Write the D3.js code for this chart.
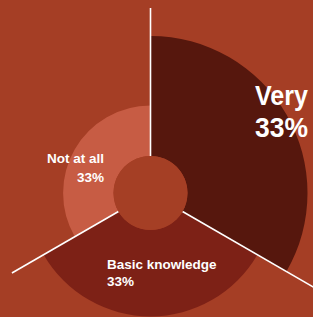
<!DOCTYPE html>
<html>
<head>
<meta charset="utf-8">
<script src="https://cdn.jsdelivr.net/npm/d3@7"></script>
<style>
  html, body { margin: 0; padding: 0; background: #a53e25; }
  svg { display: block; }
  .lbl { fill: #fff; font-family: "Liberation Sans", Arial, sans-serif; font-weight: bold; }
</style>
</head>
<body>
<div id="chart"></div>
<script>
// data
var categories = ["Very", "Basic knowledge", "Not at all"];
var shares = [33, 33, 33];
var reach = [100, 72, 42];
var shareLabels = ["33%", "33%", "33%"];
var colors = ["#56170d", "#7d2116", "#c75c44"];

var W = 313, H = 317;
var cx = 150.5, cy = 193;
var innerR = 37;

var svg = d3.select("#chart").append("svg")
    .attr("width", W)
    .attr("height", H);

svg.append("rect").attr("width", W).attr("height", H).attr("fill", "#a53e25");

var g = svg.append("g").attr("transform", "translate(" + cx + "," + cy + ")");

var r = d3.scaleLinear().domain([0, 100]).range([innerR, 157]);

var pie = d3.pie().sort(null).value(function (d) { return d; });
var arcs = pie(shares);

var arc = d3.arc()
    .innerRadius(innerR)
    .outerRadius(function (d) { return r(reach[d.index]); });

g.selectAll("path.slice")
    .data(arcs)
    .enter().append("path")
    .attr("class", "slice")
    .attr("d", arc)
    .attr("fill", function (d) { return colors[d.index]; });

// separator lines, each reaches a different length
var lineLen = [185, 200, 160];
g.selectAll("line.sep")
    .data(arcs)
    .enter().append("line")
    .attr("class", "sep")
    .attr("x1", function (d) { return Math.sin(d.startAngle) * innerR; })
    .attr("y1", function (d) { return -Math.cos(d.startAngle) * innerR; })
    .attr("x2", function (d, i) { return Math.sin(d.startAngle) * lineLen[i]; })
    .attr("y2", function (d, i) { return -Math.cos(d.startAngle) * lineLen[i]; })
    .attr("stroke", "#fff")
    .attr("stroke-width", 1.6);

g.append("circle").attr("r", innerR).attr("fill", "#a53f25");

// labels (big one squeezed to look like the condensed face of the original)
var labelPos = [
    { x: 255, y: 105, dy: 32, size: 28, anchor: "start", fit: [53, 53] },
    { x: 107, y: 269, dy: 17, size: 13.5, anchor: "start", fit: null },
    { x: 104, y: 163, dy: 19, size: 13.5, anchor: "end", fit: null }
];

categories.forEach(function (c, i) {
    var p = labelPos[i];
    var t = svg.append("text")
        .attr("class", "lbl")
        .attr("text-anchor", p.anchor)
        .style("font-size", p.size + "px");
    var a = t.append("tspan").attr("x", p.x).attr("y", p.y).text(c);
    var b = t.append("tspan").attr("x", p.x).attr("y", p.y + p.dy).text(shareLabels[i]);
    if (p.fit) {
        a.attr("textLength", p.fit[0]).attr("lengthAdjust", "spacingAndGlyphs");
        b.attr("textLength", p.fit[1]).attr("lengthAdjust", "spacingAndGlyphs");
    }
});
</script>
</body>
</html>
